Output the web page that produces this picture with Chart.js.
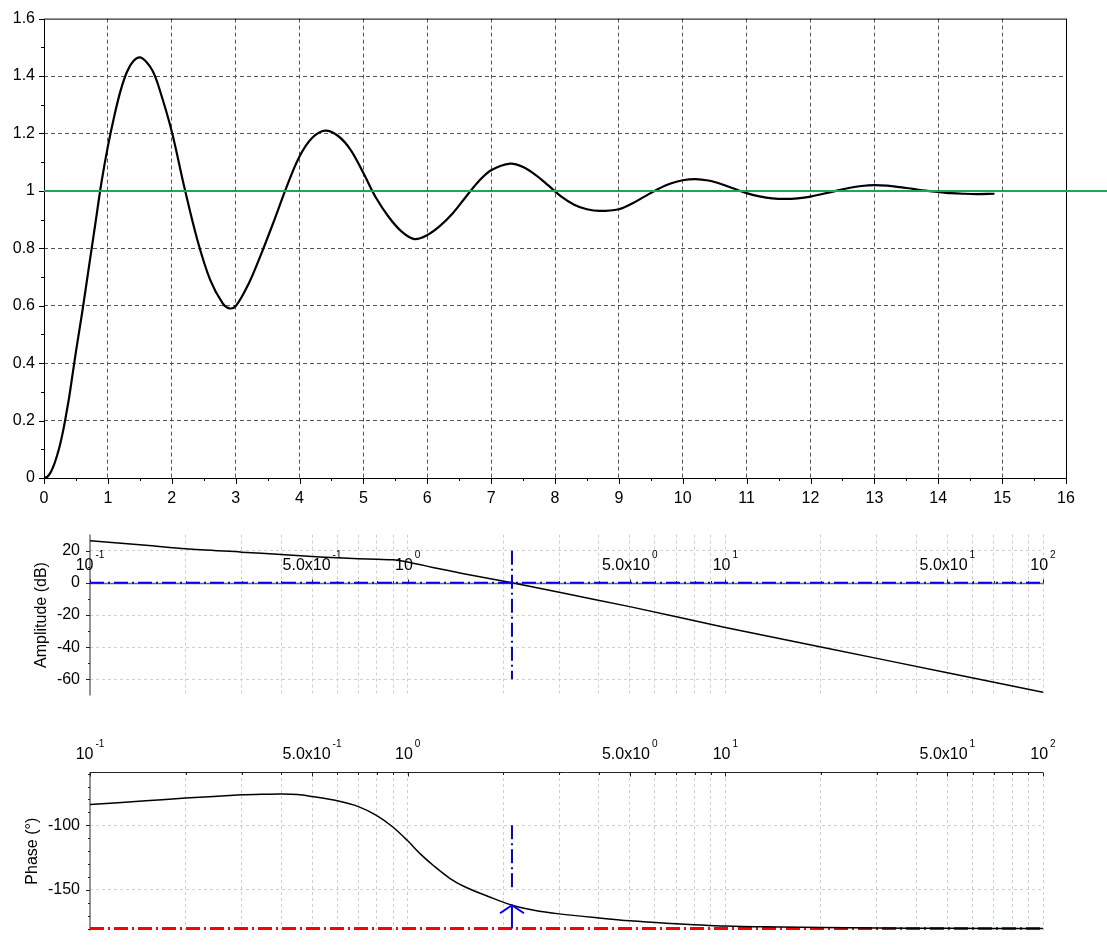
<!DOCTYPE html>
<html>
<head>
<meta charset="utf-8">
<script src="https://cdn.jsdelivr.net/npm/chart.js@4.4.0/dist/chart.umd.min.js"></script>
<style>
  html, body { margin: 0; padding: 0; background: #fff; overflow: hidden; }
  canvas { position: absolute; left: 0; }
  #step { top: 0; }
  #amp { top: 515px; }
  #phase { top: 715px; }
</style>
</head>
<body>
<canvas id="step" width="1107" height="515"></canvas>
<canvas id="amp" width="1107" height="200"></canvas>
<canvas id="phase" width="1107" height="235"></canvas>
<script>
// ---- step response ----
const stepTime = [0, 0.05, 0.1, 0.15, 0.2, 0.25, 0.3, 0.35, 0.4, 0.5, 0.6, 0.7, 0.8, 0.9, 1.0, 1.1, 1.2, 1.3, 1.4, 1.5, 1.6, 1.7, 1.8, 2.0, 2.2,
  2.4, 2.6, 2.8, 2.9, 3.0, 3.2, 3.4, 3.6, 3.8, 4.0, 4.2, 4.4, 4.6, 4.8, 5.0, 5.2, 5.4, 5.6, 5.8, 6.0,
  6.2, 6.4, 6.6, 6.8, 7.0, 7.3, 7.5, 7.7, 7.9, 8.1, 8.3, 8.5, 8.7, 9.0, 9.2, 9.4, 9.6, 9.8, 10.0, 10.2,
  10.4, 10.6, 10.8, 11.0, 11.2, 11.4, 11.6, 11.8, 12.0, 12.2, 12.4, 12.6, 12.8, 13.0, 13.2, 13.4, 13.6, 13.8, 14.0, 14.2,
  14.4, 14.6, 14.88];
const stepValue = [0, 0.004, 0.018, 0.042, 0.075, 0.115, 0.165, 0.225, 0.29, 0.44, 0.58, 0.73, 0.88, 1.03, 1.155, 1.26, 1.35, 1.415, 1.452, 1.465, 1.45, 1.418, 1.36, 1.207, 1.01,
  0.83, 0.691, 0.607, 0.591, 0.598, 0.675, 0.78, 0.895, 1.015, 1.12, 1.185, 1.21, 1.192, 1.143, 1.062, 0.975, 0.908, 0.858, 0.832, 0.846,
  0.878, 0.922, 0.978, 1.032, 1.072, 1.095, 1.083, 1.055, 1.018, 0.98, 0.952, 0.936, 0.93, 0.936, 0.955, 0.98, 1.005, 1.025, 1.037, 1.041,
  1.036, 1.024, 1.008, 0.992, 0.981, 0.974, 0.972, 0.974, 0.98, 0.99, 1.0, 1.01, 1.017, 1.02, 1.018, 1.013, 1.007, 1.001, 0.996, 0.992,
  0.99, 0.989, 0.99];
const refLevel = 1;
const refEnd = 17.5;
const stepXTicks = [0, 1, 2, 3, 4, 5, 6, 7, 8, 9, 10, 11, 12, 13, 14, 15, 16];
const stepXMinor = [0.5, 1.5, 2.5, 3.5, 4.5, 5.5, 6.5, 7.5, 8.5, 9.5, 10.5, 11.5, 12.5, 13.5, 14.5, 15.5];
const stepYTicks = [0, 0.2, 0.4, 0.6, 0.8, 1, 1.2, 1.4, 1.6];
const stepYMinor = [0.1, 0.3, 0.5, 0.7, 0.9, 1.1, 1.3, 1.5];

// ---- bode ----
const freqGrid = [0.1, 0.2, 0.3, 0.4, 0.5, 0.6, 0.7, 0.8, 0.9, 1, 2, 3, 4, 5, 6, 7, 8, 9,
  10, 20, 30, 40, 50, 60, 70, 80, 90, 100];
const freqLabelValue = [0.1, 0.5, 1, 5, 10, 50, 100];
const freqLabelMant = ['', '5.0', '', '5.0', '', '5.0', ''];
const freqLabelExp = ['-1', '-1', '0', '0', '1', '1', '2'];

const ampFreq = [0.1, 0.15, 0.2, 0.3, 0.4, 0.5, 0.6, 0.7, 0.8, 0.9, 0.95, 1.0, 1.1, 1.2, 1.5, 2.13, 3, 5, 10, 20, 50, 100];
const ampDb = [26.2, 23.4, 21.2, 19.1, 17.6, 16.4, 15.6, 15.0, 14.6, 14.3, 13.7, 12.9, 11.2, 9.6, 5.7, 0, -5.9, -14.8, -27.8, -39.9, -55.9, -68.0];
const ampYMajor = [20, 0, -20, -40, -60];
const ampYMinor = [10, -10, -30, -50];

const phaseFreq = [0.1, 0.15, 0.2, 0.3, 0.35, 0.4, 0.45, 0.5, 0.6, 0.7, 0.8, 0.9, 1.0, 1.1, 1.21, 1.36, 1.53, 1.81, 2.13, 2.5,
  3, 4, 5, 6.5, 10, 15, 20, 30, 50, 100];
const phaseDeg = [-83.9, -81.0, -78.9, -76.4, -75.9, -75.7, -76.1, -77.7, -81.0, -85.5, -92.5, -101.5, -112.0, -122.5, -131.5, -141.2, -148.2, -155.5, -161.9, -165.8,
  -168.6, -171.8, -174.0, -175.8, -178.0, -178.8, -179.2, -179.5, -179.8, -180.0];
const phaseYMajor = [-100, -150];
const phaseYMinor = [-60, -70, -80, -90, -110, -120, -130, -140, -160, -170, -180];

const crossFreq = 2.13;       // 0 dB crossover
const ampGuide = [20, -60];
const phaseGuide = [-100, -148];
const phaseAtCross = -161.9;
const phaseLimit = -180;

const FONT = '"Liberation Sans", Arial, Helvetica, sans-serif';
const dashDot = [14, 4, 2, 4];

function pts(xs, ys) { return xs.map((x, i) => ({ x, y: ys[i] })); }

function line(ctx, x1, y1, x2, y2) { ctx.moveTo(x1, y1); ctx.lineTo(x2, y2); }

function powLabel(ctx, x, baseY, mant, exp) {
  const main = mant ? mant + 'x10' : '10';
  ctx.font = '16px ' + FONT;
  const wm = ctx.measureText(main).width;
  ctx.font = '10px ' + FONT;
  const we = ctx.measureText(exp).width;
  const start = x - (wm + 2 + we) / 2;
  ctx.fillStyle = '#000';
  ctx.textAlign = 'left';
  ctx.textBaseline = 'alphabetic';
  ctx.font = '16px ' + FONT;
  ctx.fillText(main, start, baseY);
  ctx.font = '10px ' + FONT;
  ctx.fillText(exp, start + wm + 2, baseY - 12);
}

Chart.defaults.font.family = FONT;
Chart.defaults.color = '#000';
Chart.defaults.animation = false;

// ---------- step response ----------
const stepFrame = {
  id: 'stepFrame',
  beforeDatasetsDraw(chart) {
    const { ctx, chartArea: a, scales: { x, y } } = chart;
    ctx.save();
    ctx.strokeStyle = '#000';
    ctx.lineWidth = 1;
    ctx.strokeRect(a.left + 0.5, a.top + 0.5, a.right - a.left, a.bottom - a.top);
    ctx.beginPath();
    stepXTicks.forEach(v => { const p = Math.round(x.getPixelForValue(v)) + 0.5; line(ctx, p, a.bottom, p, a.bottom + 6); });
    stepXMinor.forEach(v => { const p = Math.round(x.getPixelForValue(v)) + 0.5; line(ctx, p, a.bottom, p, a.bottom + 3); });
    stepYTicks.forEach(v => { const p = Math.round(y.getPixelForValue(v)) + 0.5; line(ctx, a.left - 5, p, a.left, p); });
    stepYMinor.forEach(v => { const p = Math.round(y.getPixelForValue(v)) + 0.5; line(ctx, a.left - 3, p, a.left, p); });
    ctx.stroke();
    ctx.restore();
  }
};

new Chart(document.getElementById('step'), {
  type: 'line',
  data: {
    datasets: [
      { data: [{ x: 0, y: refLevel }, { x: refEnd, y: refLevel }], borderColor: '#1fa653', borderWidth: 2, pointRadius: 0, clip: false },
      { data: pts(stepTime, stepValue), borderColor: '#000', borderWidth: 2.2, pointRadius: 0, tension: 0.35 }
    ]
  },
  options: {
    responsive: false,
    devicePixelRatio: 1,
    layout: { padding: { left: 0, top: 15, right: 41, bottom: 0 } },
    plugins: { legend: { display: false }, tooltip: { enabled: false } },
    scales: {
      x: {
        type: 'linear', min: 0, max: 16,
        afterBuildTicks: s => { s.ticks = stepXTicks.map(v => ({ value: v })); },
        afterFit: s => { s.height = 37; },
        grid: { drawTicks: false, color: c => (c.tick && (c.tick.value === 0 || c.tick.value === 16)) ? 'transparent' : '#555' },
        border: { display: false, dash: [4, 3] },
        ticks: { font: { size: 16 }, padding: 11, maxRotation: 0, autoSkip: false }
      },
      y: {
        type: 'linear', min: 0, max: 1.6,
        afterBuildTicks: s => { s.ticks = stepYTicks.map(v => ({ value: v })); },
        afterFit: s => { s.width = 44; },
        grid: { drawTicks: false, color: c => (c.tick && (c.tick.value === 0 || c.tick.value === 1.6)) ? 'transparent' : '#555' },
        border: { display: false, dash: [4, 3] },
        ticks: { font: { size: 16 }, padding: 9, callback: v => String(v) }
      }
    }
  },
  plugins: [stepFrame]
});

// ---------- bode helpers ----------
function bodeAxes(kind) {
  return {
    id: 'bodeAxes_' + kind,
    beforeDatasetsDraw(chart) {
      const { ctx, chartArea: a, scales: { x, y } } = chart;
      const axisY = kind === 'amp' ? Math.round(y.getPixelForValue(0)) + 0.5 : Math.round(a.top) + 0.5;
      const dir = kind === 'amp' ? -1 : 1;
      const yMinor = kind === 'amp' ? ampYMinor : phaseYMinor;
      const yMajor = kind === 'amp' ? ampYMajor : phaseYMajor;
      ctx.save();
      // left axis
      ctx.strokeStyle = '#707070';
      ctx.lineWidth = 1.5;
      ctx.beginPath();
      line(ctx, a.left, a.top, a.left, a.bottom);
      ctx.stroke();
      // frequency axis
      ctx.strokeStyle = kind === 'amp' ? '#707070' : '#222';
      ctx.lineWidth = kind === 'amp' ? 1.5 : 1;
      ctx.beginPath();
      line(ctx, a.left, axisY, a.right, axisY);
      ctx.stroke();
      ctx.lineWidth = 1;
      ctx.strokeStyle = '#222';
      ctx.beginPath();
      freqGrid.forEach(v => {
        const p = Math.round(x.getPixelForValue(v)) + 0.5;
        const len = freqLabelValue.includes(v) ? 4 : 2.5;
        line(ctx, p, axisY, p, axisY + dir * len);
      });
      yMajor.forEach(v => { const p = Math.round(y.getPixelForValue(v)) + 0.5; line(ctx, a.left - 4, p, a.left, p); });
      yMinor.forEach(v => { const p = Math.round(y.getPixelForValue(v)) + 0.5; line(ctx, a.left - 2, p, a.left, p); });
      ctx.stroke();
      freqLabelValue.forEach((v, i) => {
        powLabel(ctx, x.getPixelForValue(v), axisY - 14, freqLabelMant[i], freqLabelExp[i]);
      });
      ctx.restore();
    },
    afterDatasetsDraw(chart) {
      if (kind !== 'phase') return;
      const { ctx, scales: { x, y } } = chart;
      const tx = x.getPixelForValue(crossFreq);
      const ty = y.getPixelForValue(phaseAtCross);
      ctx.save();
      ctx.strokeStyle = '#0000ff';
      ctx.lineWidth = 2;
      ctx.beginPath();
      ctx.moveTo(tx - 12, ty + 8);
      ctx.lineTo(tx, ty);
      ctx.lineTo(tx + 12, ty + 8);
      ctx.stroke();
      ctx.restore();
    }
  };
}

function logX(height, position) {
  return {
    type: 'logarithmic', min: 0.1, max: 100, position,
    afterBuildTicks: s => { s.ticks = freqGrid.map(v => ({ value: v })); },
    afterFit: s => { s.height = height; },
    grid: { drawTicks: false, color: c => (c.tick && c.tick.value === 0.1) ? 'transparent' : '#cfcfcf' },
    border: { display: false, dash: [3, 3] },
    ticks: { display: false }
  };
}

// ---------- amplitude ----------
new Chart(document.getElementById('amp'), {
  type: 'line',
  data: {
    datasets: [
      { data: [{ x: crossFreq, y: ampGuide[0] }, { x: crossFreq, y: ampGuide[1] }], borderColor: '#0000ff', borderWidth: 2, borderDash: dashDot, pointRadius: 0 },
      { data: [{ x: 0.1, y: 0 }, { x: 100, y: 0 }], borderColor: '#0000ff', borderWidth: 2, borderDash: dashDot, pointRadius: 0 },
      { data: pts(ampFreq, ampDb), borderColor: '#000', borderWidth: 1.5, pointRadius: 0, tension: 0.3 }
    ]
  },
  options: {
    responsive: false,
    devicePixelRatio: 1,
    layout: { padding: { left: 0, top: 9, right: 64, bottom: 0 } },
    plugins: { legend: { display: false }, tooltip: { enabled: false } },
    scales: {
      x: logX(15, 'bottom'),
      y: {
        type: 'linear', min: -70, max: 30,
        afterBuildTicks: s => { s.ticks = ampYMajor.map(v => ({ value: v })); },
        afterFit: s => { s.width = 90; },
        grid: { drawTicks: false, color: c => (c.tick && c.tick.value === 0) ? 'transparent' : '#cfcfcf' },
        border: { display: false, dash: [3, 3] },
        ticks: { font: { size: 16 }, padding: 10 },
        title: { display: true, text: 'Amplitude (dB)', font: { size: 16 }, padding: { top: 32 } }
      }
    }
  },
  plugins: [bodeAxes('amp')]
});

// ---------- phase ----------
new Chart(document.getElementById('phase'), {
  type: 'line',
  data: {
    datasets: [
      { data: [{ x: crossFreq, y: phaseLimit }, { x: crossFreq, y: phaseAtCross }], borderColor: '#0000ff', borderWidth: 2, pointRadius: 0 },
      { data: [{ x: crossFreq, y: phaseGuide[0] }, { x: crossFreq, y: phaseGuide[1] }], borderColor: '#0000ff', borderWidth: 2, borderDash: dashDot, pointRadius: 0 },
      { data: pts(phaseFreq, phaseDeg), borderColor: '#000', borderWidth: 1.5, pointRadius: 0, tension: 0.3 },
      { data: [{ x: 0.1, y: phaseLimit }, { x: 100, y: phaseLimit }], borderColor: '#ff0000', borderWidth: 3, borderDash: dashDot, pointRadius: 0 }
    ]
  },
  options: {
    responsive: false,
    devicePixelRatio: 1,
    layout: { padding: { left: 0, top: 0, right: 64, bottom: 0 } },
    plugins: { legend: { display: false }, tooltip: { enabled: false } },
    scales: {
      x: logX(57, 'top'),
      y: {
        type: 'linear', min: -181.4, max: -58.7,
        afterBuildTicks: s => { s.ticks = phaseYMajor.map(v => ({ value: v })); },
        afterFit: s => { s.width = 90; },
        grid: { drawTicks: false, color: '#cfcfcf' },
        border: { display: false, dash: [3, 3] },
        ticks: { font: { size: 16 }, padding: 10 },
        title: { display: true, text: 'Phase (°)', font: { size: 16 }, padding: { top: 23 } }
      }
    }
  },
  plugins: [bodeAxes('phase')]
});
</script>
</body>
</html>
